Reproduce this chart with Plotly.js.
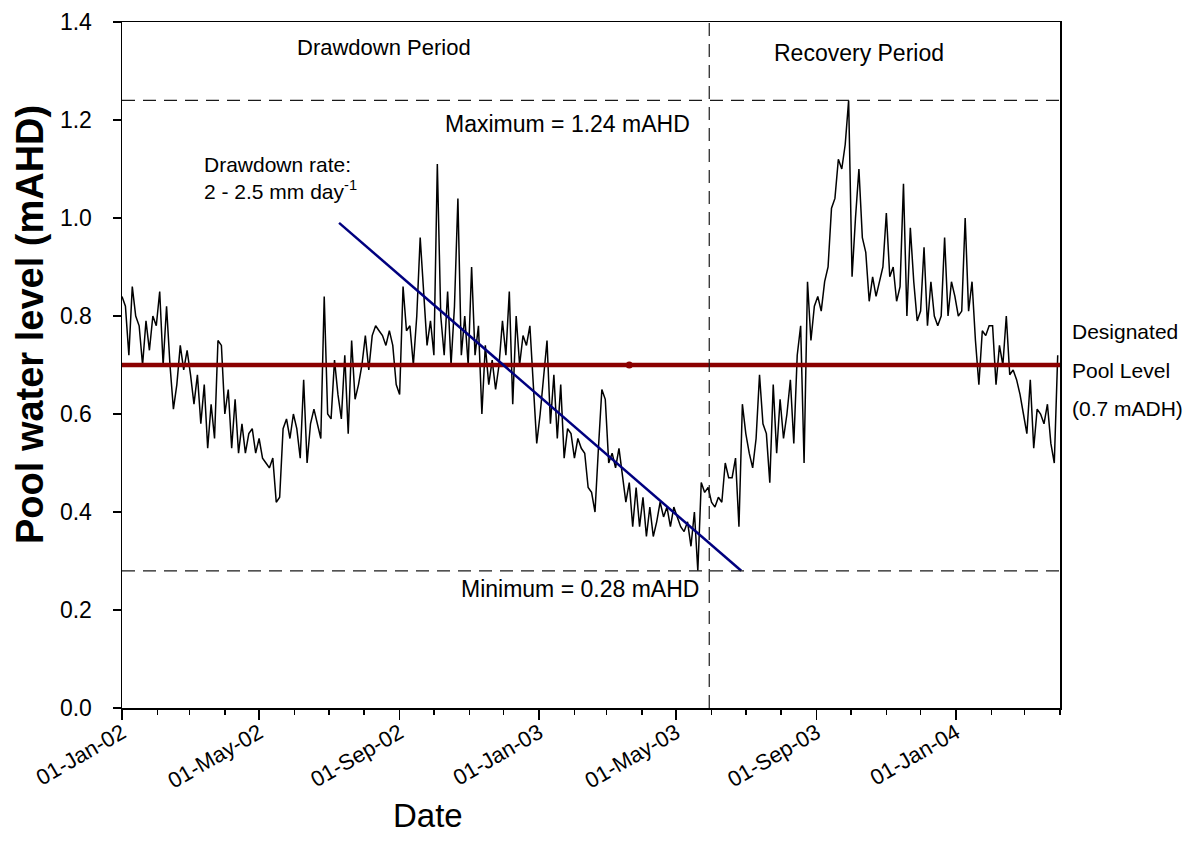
<!DOCTYPE html>
<html>
<head>
<meta charset="utf-8">
<script src="https://cdn.plot.ly/plotly-3.0.1.min.js"></script>
<style>
  html, body { margin: 0; padding: 0; background: #fff; }
  #chart { width: 1195px; height: 852px; }
</style>
</head>
<body>
<div id="chart"></div>
<script>
// Pool water level record, one reading every 3 days from 1 Jan 2002
const seriesStart = '2002-01-01';
const stepDays = 3;
const poolLevel = [
  0.84, 0.82, 0.72, 0.86, 0.80, 0.78, 0.70, 0.79, 0.73, 0.80,
  0.78, 0.85, 0.70, 0.82, 0.70, 0.61, 0.66, 0.74, 0.69, 0.73,
  0.68, 0.62, 0.68, 0.58, 0.66, 0.53, 0.62, 0.55, 0.75, 0.74,
  0.60, 0.65, 0.53, 0.63, 0.52, 0.58, 0.52, 0.56, 0.57, 0.52,
  0.55, 0.51, 0.50, 0.49, 0.51, 0.42, 0.43, 0.57, 0.59, 0.55,
  0.60, 0.57, 0.51, 0.67, 0.50, 0.58, 0.61, 0.58, 0.55, 0.84,
  0.60, 0.59, 0.71, 0.64, 0.59, 0.72, 0.56, 0.75, 0.63,
  0.66, 0.70, 0.76, 0.69, 0.76, 0.78, 0.77, 0.76, 0.74, 0.77,
  0.74, 0.66, 0.64, 0.86, 0.77, 0.78, 0.70, 0.80, 0.96, 0.85,
  0.74, 0.79, 0.72, 1.11, 0.80, 0.72, 0.85, 0.70, 0.82, 1.04,
  0.72, 0.80, 0.70, 0.90, 0.72, 0.78, 0.60, 0.74, 0.66, 0.71,
  0.65, 0.70, 0.79, 0.72, 0.85, 0.62, 0.80, 0.70, 0.76, 0.74,
  0.78, 0.66, 0.54, 0.60, 0.67, 0.75, 0.58, 0.68, 0.55, 0.66,
  0.51, 0.57, 0.56, 0.51, 0.55, 0.53, 0.52,
  0.45, 0.44, 0.40, 0.53, 0.65, 0.63, 0.50, 0.52, 0.49, 0.53,
  0.47, 0.42, 0.46, 0.37, 0.45, 0.37, 0.43, 0.35, 0.41, 0.35,
  0.38, 0.42, 0.39, 0.41, 0.37, 0.41, 0.39, 0.37, 0.36, 0.38,
  0.33, 0.40, 0.28,
  0.46, 0.44, 0.45, 0.42, 0.41, 0.43, 0.42, 0.50, 0.47, 0.47,
  0.51, 0.37, 0.62, 0.56, 0.52,
  0.49, 0.55, 0.68, 0.58, 0.56, 0.46, 0.66, 0.52, 0.63, 0.55,
  0.60, 0.67, 0.54, 0.72, 0.78, 0.50, 0.87, 0.75, 0.82, 0.84,
  0.81, 0.87, 0.90, 1.02, 1.04, 1.12, 1.10, 1.15, 1.24, 0.88,
  1.00, 1.10, 0.96, 0.93, 0.83, 0.88, 0.84, 0.87, 0.90, 1.01,
  0.88, 0.90, 0.83, 0.86, 1.07, 0.80, 0.98, 0.87, 0.79, 0.81,
  0.94, 0.78, 0.87, 0.80, 0.78, 0.80, 0.96, 0.80, 0.87, 0.84,
  0.80, 0.81, 1.00, 0.81, 0.87, 0.75, 0.66, 0.77, 0.76, 0.78,
  0.78, 0.66, 0.74, 0.70, 0.80, 0.68, 0.69, 0.67, 0.64, 0.60,
  0.56, 0.67, 0.53, 0.61, 0.60, 0.58, 0.62, 0.54, 0.50, 0.72
];

// Reference levels (mAHD)
const designatedLevel = 0.7;
const maxLevel = 1.24;
const minLevel = 0.28;
const designatedDates = ['2002-01-01', '2004-04-01'];
const designatedMarkDate = '2003-03-21';

// Drawdown trend line end points
const trendDates = ['2002-07-10', '2003-06-27'];
const trendLevels = [0.99, 0.28];

// Split between the drawdown and recovery periods
const periodSplit = '2003-05-30';

// Axis ranges and ticks
const xRange = ['2002-01-01', '2004-04-01'];
const xTickVals = ['2002-01-01', '2002-05-01', '2002-09-01', '2003-01-01', '2003-05-01', '2003-09-01', '2004-01-01'];
const xTickText = ['01-Jan-02', '01-May-02', '01-Sep-02', '01-Jan-03', '01-May-03', '01-Sep-03', '01-Jan-04'];
const yRange = [0, 1.4];

function addDays(iso, n) {
  const d = new Date(iso + 'T00:00:00Z');
  d.setUTCDate(d.getUTCDate() + n);
  return d.toISOString().slice(0, 10);
}
const levelDates = poolLevel.map((_, i) => addDays(seriesStart, i * stepDays));

const FONT = 'Liberation Sans, Arial, Helvetica, sans-serif';
const dashStyle = { color: '#1a1a1a', width: 1.2, dash: '13px,8px' };

// Plot area in pixels, used to place the free text
const PL = 122, PR = 1060, PT = 22, PB = 708;
const px = x => (x - PL) / (PR - PL);
const py = y => (PB - y) / (PB - PT);

const traces = [
  {
    x: levelDates, y: poolLevel, type: 'scatter', mode: 'lines',
    line: { color: '#000', width: 1.5 }, showlegend: false
  },
  {
    x: designatedDates, y: designatedDates.map(() => designatedLevel),
    type: 'scatter', mode: 'lines',
    line: { color: '#8b0000', width: 4.5 },
    cliponaxis: false, showlegend: false
  },
  {
    x: [designatedMarkDate], y: [designatedLevel],
    type: 'scatter', mode: 'markers',
    marker: { color: '#8b0000', size: 7, line: { width: 0 } },
    showlegend: false
  },
  {
    x: trendDates, y: trendLevels, type: 'scatter', mode: 'lines',
    line: { color: '#00007f', width: 2.5 }, showlegend: false
  }
];

const annText = (text, x, y, size, opts) => Object.assign({
  text: text, xref: 'paper', yref: 'paper', x: px(x), y: py(y),
  showarrow: false, font: { family: FONT, size: size, color: '#000' },
  xanchor: 'center', yanchor: 'middle'
}, opts || {});

const layout = {
  width: 1195, height: 852,
  margin: { l: PL, r: 1195 - PR, t: PT, b: 852 - PB },
  paper_bgcolor: '#fff', plot_bgcolor: '#fff',
  font: { family: FONT, color: '#000' },
  showlegend: false,
  xaxis: {
    type: 'date', range: xRange,
    tickvals: xTickVals, ticktext: xTickText, tickangle: -30,
    ticks: 'outside', ticklen: 10, tickwidth: 1.5, tickcolor: '#000',
    tickfont: { family: FONT, size: 22, color: '#000' },
    ticklabelstandoff: -8,
    showline: true, linecolor: '#000', linewidth: 1.5, mirror: true,
    showgrid: false, zeroline: false,
    minor: { ticks: 'outside', ticklen: 5, tickwidth: 1.5, tickcolor: '#000', dtick: 'M1', tick0: '2002-01-01', showgrid: false }
  },
  yaxis: {
    range: yRange, dtick: 0.2, tick0: 0, tickformat: '.1f',
    ticks: 'outside', ticklen: 8, tickwidth: 1.5, tickcolor: '#000',
    tickfont: { family: FONT, size: 23, color: '#000' },
    ticklabelstandoff: 16,
    showline: true, linecolor: '#000', linewidth: 1.5, mirror: true,
    showgrid: false, zeroline: false
  },
  shapes: [
    { type: 'line', xref: 'paper', x0: 0, x1: 1, yref: 'y', y0: maxLevel, y1: maxLevel, line: dashStyle },
    { type: 'line', xref: 'paper', x0: 0, x1: 1, yref: 'y', y0: minLevel, y1: minLevel, line: dashStyle },
    { type: 'line', xref: 'x', x0: periodSplit, x1: periodSplit, yref: 'paper', y0: 0, y1: 1, line: dashStyle }
  ],
  annotations: [
    annText('Drawdown Period', 384, 47, 22),
    annText('Recovery Period', 859, 53, 23),
    annText('Maximum = 1.24 mAHD', 567, 124, 23),
    annText('Minimum = 0.28 mAHD', 580, 589, 23),
    annText('Drawdown rate:', 202, 164, 21, { xanchor: 'left' }),
    annText('2 - 2.5 mm day<sup>-1</sup>', 202, 190, 21, { xanchor: 'left' }),
    annText('Designated', 1070, 331, 21, { xanchor: 'left' }),
    annText('Pool Level', 1070, 370, 21, { xanchor: 'left' }),
    annText('(0.7 mADH)', 1070, 409, 21, { xanchor: 'left' }),
    annText('<b>Pool water level (mAHD)</b>', 30, 325, 38, { textangle: -90 }),
    annText('Date', 428, 815, 33)
  ]
};

Plotly.newPlot('chart', traces, layout, { displayModeBar: false, staticPlot: true });
</script>
</body>
</html>
